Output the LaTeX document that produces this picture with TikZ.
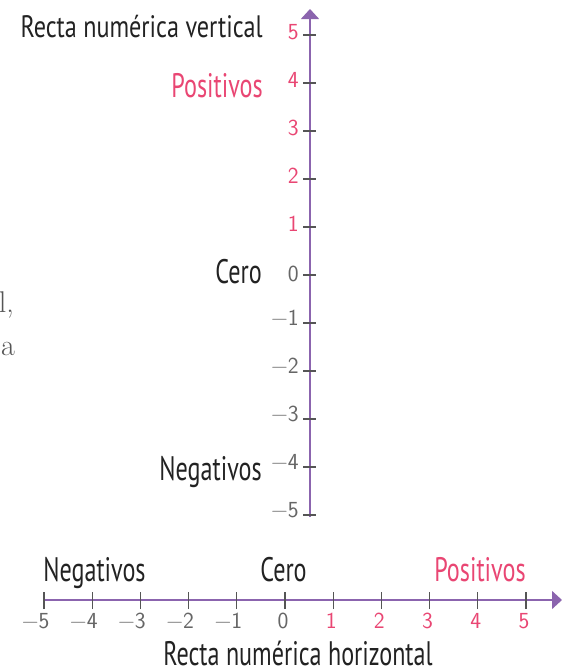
\documentclass[tikz,border=0pt]{standalone}
\usepackage{fontspec}
\usetikzlibrary{arrows.meta}
\newfontfamily\condfont[FakeStretch=0.71]{PT Sans}
\newfontfamily\condfontw[FakeStretch=0.78]{PT Sans}
\newfontfamily\numfont{Latin Modern Sans}
\definecolor{axispurple}{HTML}{8B64AE}
\definecolor{tickgray}{HTML}{555555}
\definecolor{numgray}{HTML}{666666}
\definecolor{posPink}{HTML}{E94673}
\definecolor{txtdark}{HTML}{222222}
\tikzset{
  axisline/.style={draw=axispurple, line width=1.5pt, -{Triangle[length=10pt,width=18pt]}},
  tickline/.style={draw=tickgray, line width=1.2pt},
  lbl/.style={font=\condfont\fontsize{34}{34}\selectfont, inner sep=0pt, text=txtdark},
  ttl/.style={font=\condfontw\fontsize{31}{31}\selectfont, inner sep=0pt, text=txtdark},
  numneg/.style={font=\numfont\fontsize{23}{23}\selectfont, inner sep=0pt, text=numgray},
  numpos/.style={font=\numfont\fontsize{23}{23}\selectfont, inner sep=0pt, text=posPink},
  stray/.style={font=\fontsize{30}{30}\selectfont, inner sep=0pt, text=tickgray}
}
\begin{document}
\begin{tikzpicture}[x=1pt,y=-1pt]
\useasboundingbox (0,0) rectangle (567,670);
% stray cut-off text at left edge
\node[stray, anchor=base east] (s1) at (14,312) {l,};
\node[stray, anchor=base east] (s2) at (15,355) {a};
% vertical axis
\coordinate (vb) at (310,517);
\coordinate (vt) at (310,9);
\draw[axisline] (vb) -- (vt);
\foreach \k in {-5,...,5}{
  \pgfmathsetmacro{\yy}{275-48*\k}
  \coordinate (vtk\k) at (310,\yy);
  \draw[tickline] ([xshift=-7pt]vtk\k) -- ([xshift=6pt]vtk\k);
}
\foreach \k in {1,...,5}{
  \node[numpos, anchor=east] (vl\k) at ([xshift=-11pt,yshift=3pt]vtk\k) {\k};
}
\node[numneg, anchor=east] (vl0) at ([xshift=-11pt,yshift=1pt]vtk0) {0};
\foreach \k in {1,...,5}{
  \node[numneg, anchor=east] (vlm\k) at ([xshift=-11pt,yshift=5pt]vtk-\k) {−\k};
}
% horizontal axis
\coordinate (ha) at (44,600);
\coordinate (hb) at (562,600);
\draw[axisline] (ha) -- (hb);
\foreach \k in {-5,...,5}{
  \pgfmathsetmacro{\xx}{285+48.2*\k}
  \coordinate (htk\k) at (\xx,600);
  \draw[tickline] ([yshift=-9pt]htk\k) -- ([yshift=8pt]htk\k);
}
\foreach \k in {1,...,5}{
  \node[numpos, anchor=north] (hl\k) at ([xshift=-2pt,yshift=-13pt]htk\k) {\k};
}
\node[numneg, anchor=north] (hl0) at ([xshift=-2pt,yshift=-13pt]htk0) {0};
\foreach \k in {1,...,5}{
  \node[numneg, anchor=north] (hlm\k) at ([xshift=0pt,yshift=-13pt]htk-\k) {\llap{−}\k};
}
% labels vertical
\node[ttl, anchor=base east] (tv) at (263,37) {Recta numérica vertical};
\node[lbl, anchor=base east, text=posPink] (pv) at (263,97) {Positivos};
\node[lbl, anchor=base east] (cv) at (262,283) {Cero};
\node[lbl, anchor=base east] (nv) at (262,480) {Negativos};
% labels horizontal
\node[lbl, anchor=base] (nh) at (94.5,581) {Negativos};
\node[lbl, anchor=base] (ch) at (283.5,581) {Cero};
\node[lbl, anchor=base, text=posPink] (ph) at (480,581) {Positivos};
\node[lbl, anchor=base] (th) at (298,665) {Recta numérica horizontal};
\end{tikzpicture}
\end{document}
